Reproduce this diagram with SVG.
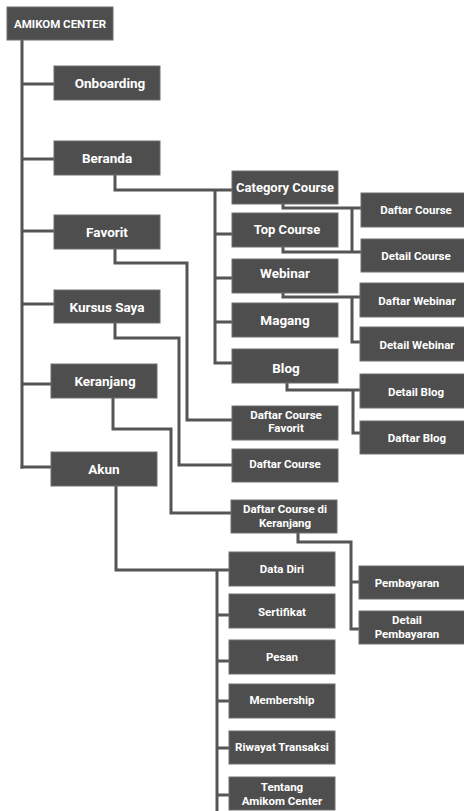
<svg xmlns="http://www.w3.org/2000/svg" width="464" height="811" viewBox="0 0 464 811">
<style>
.n rect{fill:#4e4e4e;stroke:#6f6f6f;stroke-width:1}
.n text{fill:#ffffff;font-family:Roboto,"Liberation Sans",sans-serif;font-weight:bold;text-anchor:middle}
.l1 text{font-size:13.5px}
.l2 text{font-size:13px}
.l3 text{font-size:11.5px}
#conn path{fill:none;stroke:#555555;stroke-width:3;stroke-linejoin:miter;stroke-linecap:butt}
</style>
<rect width="464" height="811" fill="#ffffff"/>
<g id="conn">
<path d="M22,40 V468.5"/>
<path d="M22,84 H54"/>
<path d="M22,159 H54"/>
<path d="M22,231 H54"/>
<path d="M22,304 H54"/>
<path d="M22,384 H51"/>
<path d="M20.5,467 H51"/>
<path d="M115,175 V190 H232"/>
<path d="M215,190 V363 H232"/>
<path d="M215,234 H232"/>
<path d="M215,278 H232"/>
<path d="M215,322 H232"/>
<path d="M283,204 V208 H361"/>
<path d="M352,208 V252"/>
<path d="M283,247 V252 H361"/>
<path d="M283,293 V297 H361"/>
<path d="M352,297 V342 H361"/>
<path d="M287,383 V390 H360"/>
<path d="M353,390 V433 H360"/>
<path d="M115,249 V263 H187 V420 H232"/>
<path d="M115,323 V338 H179 V465 H232"/>
<path d="M113,398 V429 H171 V513 H231"/>
<path d="M298,533 V542 H351 V629 H359"/>
<path d="M351,582 H359"/>
<path d="M116,486 V570 H229"/>
<path d="M217,570 V811"/>
<path d="M217,615 H229"/>
<path d="M217,661 H229"/>
<path d="M217,701 H229"/>
<path d="M217,748 H229"/>
<path d="M217,795 H229"/>
</g>
<g id="amikom-center" class="n l3"><rect x="7" y="7" width="106" height="33"/><text x="60" y="28" style="font-size:11.5px">AMIKOM CENTER</text></g>
<g id="onboarding" class="n l1"><rect x="54" y="66" width="106" height="34"/><text x="110" y="88">Onboarding</text></g>
<g id="beranda" class="n l1"><rect x="54" y="141" width="106" height="34"/><text x="107" y="163">Beranda</text></g>
<g id="favorit" class="n l1"><rect x="54" y="215" width="106" height="34"/><text x="107" y="237">Favorit</text></g>
<g id="kursus-saya" class="n l1"><rect x="54" y="290" width="106" height="33"/><text x="107" y="312">Kursus Saya</text></g>
<g id="keranjang" class="n l1"><rect x="51" y="364" width="106" height="34"/><text x="105" y="386">Keranjang</text></g>
<g id="akun" class="n l1"><rect x="51" y="452" width="106" height="34"/><text x="104" y="474">Akun</text></g>
<g id="category-course" class="n l2"><rect x="232" y="171" width="106" height="33"/><text x="285" y="192">Category Course</text></g>
<g id="top-course" class="n l2"><rect x="232" y="213" width="106" height="34"/><text x="287" y="234">Top Course</text></g>
<g id="webinar" class="n l1"><rect x="232" y="259" width="106" height="34"/><text x="285" y="278">Webinar</text></g>
<g id="magang" class="n l1"><rect x="232" y="303" width="106" height="34"/><text x="285" y="325">Magang</text></g>
<g id="blog" class="n l1"><rect x="232" y="349" width="106" height="34"/><text x="286" y="373">Blog</text></g>
<g id="daftar-course-favorit" class="n l3"><rect x="232" y="406" width="106" height="34"/><text x="286" y="419">Daftar Course</text><text x="286" y="432">Favorit</text></g>
<g id="daftar-course-kursus" class="n l3"><rect x="232" y="449" width="106" height="33"/><text x="285" y="468">Daftar Course</text></g>
<g id="daftar-course-keranjang" class="n l3"><rect x="231" y="500" width="106" height="33"/><text x="285" y="513">Daftar Course di</text><text x="285" y="527">Keranjang</text></g>
<g id="data-diri" class="n l3"><rect x="229" y="552" width="106" height="34"/><text x="282" y="573">Data Diri</text></g>
<g id="sertifikat" class="n l3"><rect x="229" y="594" width="106" height="34"/><text x="282" y="616">Sertifikat</text></g>
<g id="pesan" class="n l3"><rect x="229" y="640" width="106" height="34"/><text x="282" y="661">Pesan</text></g>
<g id="membership" class="n l3"><rect x="229" y="684" width="106" height="34"/><text x="282" y="704">Membership</text></g>
<g id="riwayat-transaksi" class="n l3"><rect x="229" y="731" width="106" height="33"/><text x="282" y="751">Riwayat Transaksi</text></g>
<g id="tentang-amikom-center" class="n l3"><rect x="229" y="777" width="106" height="33"/><text x="282" y="791">Tentang</text><text x="282" y="805">Amikom Center</text></g>
<g id="daftar-course" class="n l3"><rect x="361" y="193" width="106" height="34"/><text x="416" y="214">Daftar Course</text></g>
<g id="detail-course" class="n l3"><rect x="361" y="239" width="106" height="33"/><text x="416" y="260">Detail Course</text></g>
<g id="daftar-webinar" class="n l3"><rect x="360" y="283" width="106" height="34"/><text x="417" y="305">Daftar Webinar</text></g>
<g id="detail-webinar" class="n l3"><rect x="360" y="327" width="106" height="34"/><text x="417" y="349">Detail Webinar</text></g>
<g id="detail-blog" class="n l3"><rect x="360" y="374" width="106" height="34"/><text x="416" y="396">Detail Blog</text></g>
<g id="daftar-blog" class="n l3"><rect x="360" y="421" width="106" height="33"/><text x="417" y="442">Daftar Blog</text></g>
<g id="pembayaran" class="n l3"><rect x="359" y="566" width="106" height="33"/><text x="407" y="587">Pembayaran</text></g>
<g id="detail-pembayaran" class="n l3"><rect x="359" y="611" width="106" height="33"/><text x="407" y="624">Detail</text><text x="407" y="638">Pembayaran</text></g>
</svg>
